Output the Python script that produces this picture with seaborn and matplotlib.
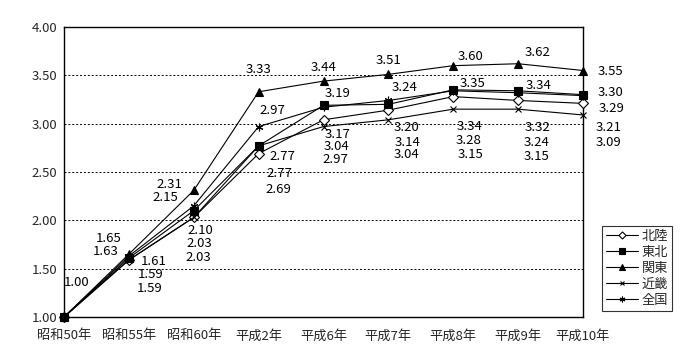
import matplotlib
matplotlib.use("Agg")
import matplotlib.pyplot as plt
import seaborn as sns
import pandas as pd
import numpy as np

categories = ["昭和50年", "昭和55年", "昭和60年", "平成2年", "平成6年",
              "平成7年", "平成8年", "平成9年", "平成10年"]
hokuriku = [1.00, 1.59, 2.03, 2.69, 3.04, 3.14, 3.28, 3.24, 3.21]
tohoku = [1.00, 1.61, 2.10, 2.77, 3.19, 3.20, 3.35, 3.34, 3.30]
kanto = [1.00, 1.65, 2.31, 3.33, 3.44, 3.51, 3.60, 3.62, 3.55]
kinki = [1.00, 1.59, 2.03, 2.77, 2.97, 3.04, 3.15, 3.15, 3.09]
zenkoku = [1.00, 1.63, 2.15, 2.97, 3.17, 3.24, 3.34, 3.32, 3.29]
series_names = ["北陸", "東北", "関東", "近畿", "全国"]
series_values = [hokuriku, tohoku, kanto, kinki, zenkoku]
y_ticks = [1.00, 1.50, 2.00, 2.50, 3.00, 3.50, 4.00]

sns.set_theme(style="white")
plt.rcParams['font.family'] = ['Noto Sans CJK JP', 'DejaVu Sans']

markers = {"北陸": dict(marker="D", mfc="white", mec="black", ms=4.8, mew=0.8),
           "東北": dict(marker="s", mfc="black", mec="black", ms=5.6, mew=0.8),
           "関東": dict(marker="^", mfc="black", mec="black", ms=6.2, mew=0.8),
           "近畿": dict(marker="x", mfc="black", mec="black", ms=4.8, mew=0.8),
           "全国": dict(marker=(6, 2, 0), mfc="black", mec="black", ms=5.5, mew=0.8)}

fig = plt.figure(figsize=(7, 3.6), dpi=100)
ax = fig.add_axes([64/700, 1-317/360, (583-64)/700, (317-27)/360])

idx = np.arange(len(categories))
for name, vals in zip(series_names, series_values):
    df = pd.DataFrame({"x": idx, "y": vals})
    sns.lineplot(data=df, x="x", y="y", ax=ax, color="black", linewidth=0.8,
                 label=name, clip_on=False, zorder=3, **markers[name])

# value labels: (series, category index, dx px, dy px) ; dy positive = up
label_specs = [
    ("関東", 0, 13, 35),
    ("関東", 1, -20, 16), ("全国", 1, -23, 5), ("東北", 1, 25, -3), ("北陸", 1, 22, -15), ("近畿", 1, 21, -29),
    ("関東", 2, -24, 6), ("全国", 2, -28, 8), ("東北", 2, 7, -20), ("北陸", 2, 6, -26), ("近畿", 2, 5, -40),
    ("関東", 3, 0, 22), ("全国", 3, 14, 16), ("東北", 3, 24, -11), ("近畿", 3, 21, -28), ("北陸", 3, 20, -36),
    ("関東", 4, 0, 14), ("東北", 4, 14, 12), ("全国", 4, 14, -27), ("北陸", 4, 13, -27), ("近畿", 4, 12, -33),
    ("関東", 5, 0, 14), ("全国", 5, 16, 13), ("東北", 5, 18, -23), ("北陸", 5, 19, -32), ("近畿", 5, 18, -35),
    ("関東", 6, 17, 9), ("東北", 6, 19, 6), ("全国", 6, 16, -36), ("北陸", 6, 15, -44), ("近畿", 6, 17, -45),
    ("関東", 7, 19, 11), ("東北", 7, 20, 5), ("全国", 7, 19, -35), ("北陸", 7, 18, -42), ("近畿", 7, 18, -47),
    ("関東", 8, 27, -1), ("東北", 8, 28, 2), ("全国", 8, 29, -13), ("北陸", 8, 26, -24), ("近畿", 8, 26, -28),
]
lookup = dict(zip(series_names, series_values))
for name, i, dx, dy in label_specs:
    v = lookup[name][i]
    ax.annotate(f"{v:.2f}", xy=(i, v), xytext=(dx, dy), textcoords="offset pixels",
                ha="center", va="center", fontsize=9.5, color="black",
                annotation_clip=False)

ax.set_xlim(0, len(categories) - 1)
ax.set_ylim(1.0, 4.0)
ax.set_xticks(idx)
ax.set_xticklabels(categories, fontsize=9.5)
ax.set_yticks(y_ticks)
ax.set_yticklabels([f"{t:.2f}" for t in y_ticks], fontsize=9.5)
ax.tick_params(axis="x", direction="in", length=3, width=0.8, color="black", pad=9)
ax.tick_params(axis="y", length=0, pad=5)
for t in y_ticks[1:-1]:
    ax.axhline(t, color="black", linestyle=(0, (2, 2)), linewidth=0.7, zorder=1)
for s in ax.spines.values():
    s.set_color("black")
    s.set_linewidth(1.0)
ax.set_xlabel("")
ax.set_ylabel("")

leg = ax.legend(loc="upper left", bbox_to_anchor=(602/700, 1-226/360),
                bbox_transform=fig.transFigure, frameon=True, fancybox=False,
                edgecolor="black", fontsize=9.5, handlelength=2.4,
                borderpad=0.3, labelspacing=0.22, handletextpad=0.3,
                borderaxespad=0, markerscale=0.75)
leg.get_frame().set_linewidth(0.8)

fig.savefig("out.png", dpi=100)
